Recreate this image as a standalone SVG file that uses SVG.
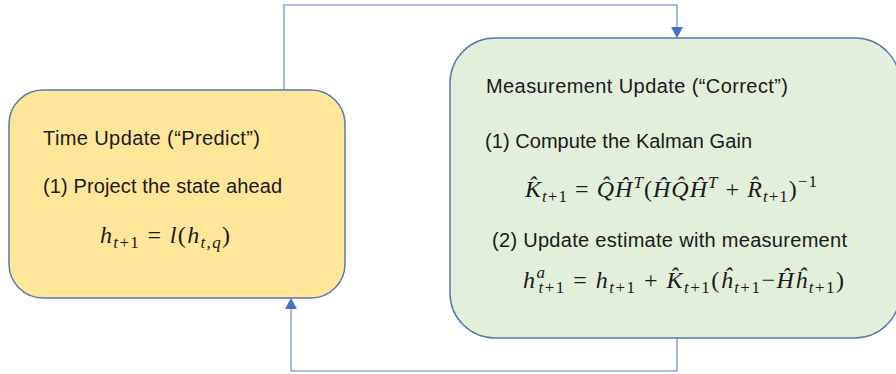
<svg xmlns="http://www.w3.org/2000/svg" width="896" height="374" viewBox="0 0 896 374">
<defs>
<style>
.box{stroke:#5878AE;stroke-width:1.5}
.conn{fill:none;stroke:#8EA9DB;stroke-width:1.6}
.t{font-family:"Liberation Sans","Open Sans",sans-serif;font-size:20px;fill:#1a1a1a}
.m{font-family:"Liberation Serif","DejaVu Serif",serif;font-size:24px;fill:#1a1a1a}
.i{font-style:italic}
.s{font-size:17px}
</style>
<marker id="arr" viewBox="0 0 11 12" refX="11" refY="6" markerWidth="11" markerHeight="12" markerUnits="userSpaceOnUse" orient="auto">
<path d="M0,0 L11,6 L0,12 Z" fill="#4472C4"/>
</marker>
</defs>
<rect width="896" height="374" fill="#ffffff"/>
<g id="connectors">
<path class="conn" d="M284,90 V5 H677 V38" marker-end="url(#arr)"/>
<path class="conn" d="M677,338 V371 H291 V298" marker-end="url(#arr)"/>
</g>
<g id="time-update">
<rect class="box" x="9" y="90" width="336" height="208" rx="34" ry="34" fill="#FFE699"/>
<text class="t" x="43" y="145" textLength="217" lengthAdjust="spacing">Time Update (“Predict”)</text>
<text class="t" x="43" y="193" textLength="239" lengthAdjust="spacing">(1) Project the state ahead</text>
<text class="m" x="100" y="243" textLength="130" lengthAdjust="spacing"><tspan class="i">h</tspan><tspan class="s i" dy="5">t</tspan><tspan class="s">+1</tspan><tspan dy="-5"> = </tspan><tspan class="i">l</tspan>(<tspan class="i">h</tspan><tspan class="s i" dy="5">t,q</tspan><tspan dy="-5">)</tspan></text>
</g>
<g id="measurement-update">
<rect class="box" x="450" y="38" width="450" height="300" rx="45" ry="45" fill="#E2EFDA"/>
<text class="t" x="486" y="93" textLength="302" lengthAdjust="spacing">Measurement Update (“Correct”)</text>
<text class="t" x="485" y="148" textLength="267" lengthAdjust="spacing">(1) Compute the Kalman Gain</text>
<text class="m" x="525" y="197" textLength="292" lengthAdjust="spacing"><tspan class="i">K̂</tspan><tspan class="s i" dy="5">t</tspan><tspan class="s">+1</tspan><tspan dy="-5"> = </tspan><tspan class="i">Q̂Ĥ</tspan><tspan class="s i" dy="-9">T</tspan><tspan dy="9">(</tspan><tspan class="i">ĤQ̂Ĥ</tspan><tspan class="s i" dy="-9">T</tspan><tspan dy="9"> + </tspan><tspan class="i">R̂</tspan><tspan class="s i" dy="5">t</tspan><tspan class="s">+1</tspan><tspan dy="-5">)</tspan><tspan class="s" dy="-10">−1</tspan></text>
<text class="t" x="492" y="247" textLength="355" lengthAdjust="spacing">(2) Update estimate with measurement</text>
<text class="m" x="523" y="288" textLength="321" lengthAdjust="spacing"><tspan class="i">h</tspan><tspan class="s i" dy="-10">a</tspan><tspan class="s i" dx="-8" dy="15">t</tspan><tspan class="s">+1</tspan><tspan dy="-5"> = </tspan><tspan class="i">h</tspan><tspan class="s i" dy="5">t</tspan><tspan class="s">+1</tspan><tspan dy="-5"> + </tspan><tspan class="i">K̂</tspan><tspan class="s i" dy="5">t</tspan><tspan class="s">+1</tspan><tspan dy="-5">(</tspan><tspan class="i">ĥ</tspan><tspan class="s i" dy="5">t</tspan><tspan class="s">+1</tspan><tspan dy="-5">−</tspan><tspan class="i">Ĥĥ</tspan><tspan class="s i" dy="5">t</tspan><tspan class="s">+1</tspan><tspan dy="-5">)</tspan></text>
</g>
</svg>
